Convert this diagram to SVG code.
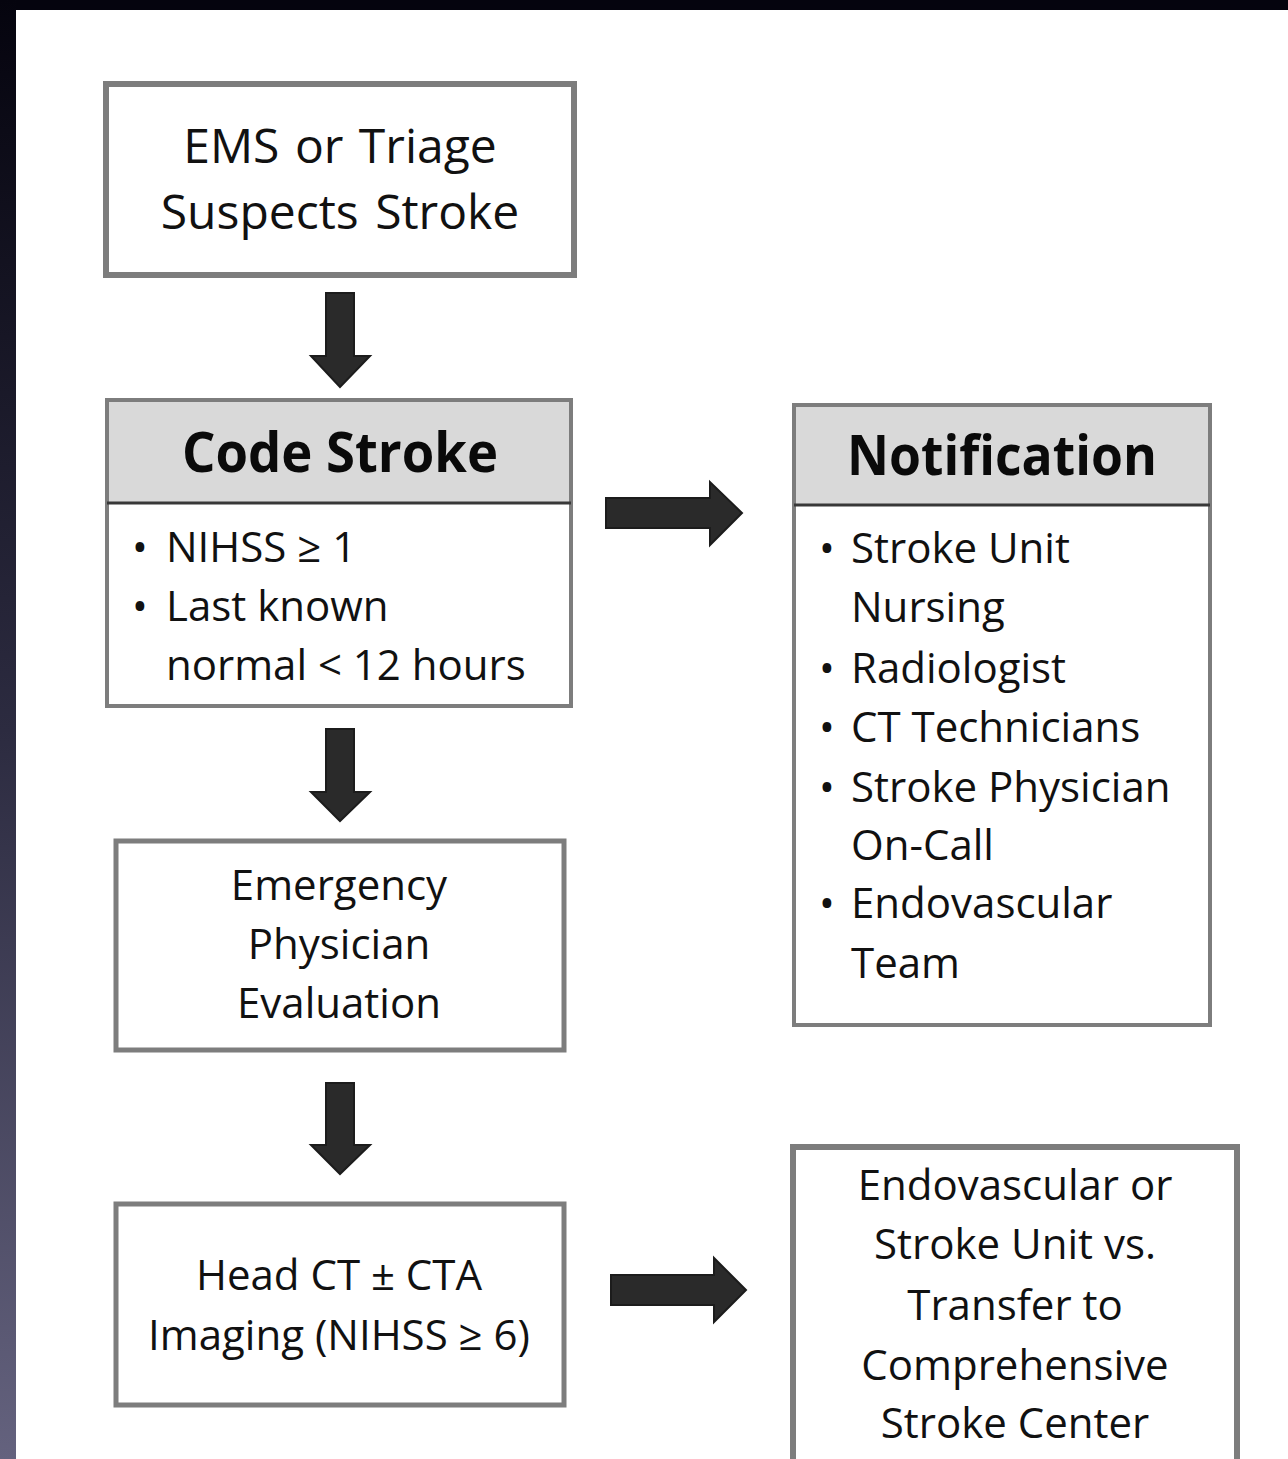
<svg xmlns="http://www.w3.org/2000/svg" width="1288" height="1459" viewBox="0 0 1288 1459">
  <defs>
    <linearGradient id="leftband" x1="0" y1="0" x2="0" y2="1">
      <stop offset="0" stop-color="#05040e"/>
      <stop offset="0.5" stop-color="#2c2b40"/>
      <stop offset="1" stop-color="#64627e"/>
    </linearGradient>
    <style>
      .box { fill: #ffffff; stroke: #7d7d7d; stroke-width: 5; }
      .hdr { fill: #d9d9d9; stroke: none; }
      .div { stroke: #383838; stroke-width: 3; }
      .t { font-family: "Open Sans", "Liberation Sans", sans-serif; font-size: 42px; fill: #111111; }
      .c { text-anchor: middle; }
      .b { font-size: 48px; }
      .h { font-family: "Open Sans", "Liberation Sans", sans-serif; font-size: 56px; font-weight: bold; fill: #0a0a0a; text-anchor: middle; }
      .arrow { fill: #2a2a2a; stroke: #1c1c1c; stroke-width: 2; stroke-linejoin: miter; }
    </style>
  </defs>

  <!-- background frame -->
  <rect x="0" y="0" width="1288" height="1459" fill="#ffffff"/>
  <rect x="0" y="0" width="1288" height="10" fill="#05040e"/>
  <rect x="0" y="0" width="16" height="1459" fill="url(#leftband)"/>

  <g id="connectors">
    <polygon class="arrow" points="326,293 354,293 354,356 370,356 340,387 311,356 326,356"/>
    <polygon class="arrow" points="326,729 354,729 354,792 370,792 340,821 311,792 326,792"/>
    <polygon class="arrow" points="326,1083 354,1083 354,1145 370,1145 340,1174 311,1145 326,1145"/>
    <polygon class="arrow" points="606,498 710,498 710,482 742,513 710,545 710,528 606,528"/>
    <polygon class="arrow" points="611,1275 714,1275 714,1258 746,1290 714,1322 714,1305 611,1305"/>
  </g>

  <g id="node-ems">
    <rect class="box" x="106" y="84" width="468" height="191" style="stroke-width:6"/>
    <text class="t c" x="340" y="163" style="font-size:48px" word-spacing="3">EMS or Triage</text>
    <text class="t c" x="340" y="229" style="font-size:48px" word-spacing="4">Suspects Stroke</text>
  </g>

  <g id="node-code-stroke">
    <rect class="box" x="107" y="400" width="464" height="306" style="stroke-width:4"/>
    <rect class="hdr" x="109" y="402" width="460" height="100"/>
    <line class="div" x1="107" y1="503" x2="571" y2="503"/>
    <text class="h" x="340" y="472" textLength="316" lengthAdjust="spacingAndGlyphs">Code Stroke</text>
    <text class="t c" x="140" y="562">•</text>
    <text class="t" x="166" y="562">NIHSS ≥ 1</text>
    <text class="t c" x="140" y="621">•</text>
    <text class="t" x="166" y="621">Last known</text>
    <text class="t" x="166" y="680">normal &lt; 12 hours</text>
  </g>

  <g id="node-notification">
    <rect class="box" x="794" y="405" width="416" height="620" style="stroke-width:4"/>
    <rect class="hdr" x="796" y="407" width="412" height="97"/>
    <line class="div" x1="794" y1="505" x2="1210" y2="505"/>
    <text class="h" x="1002" y="475" textLength="310" lengthAdjust="spacingAndGlyphs">Notification</text>
    <text class="t c" x="827" y="563">•</text>
    <text class="t" x="851" y="563">Stroke Unit</text>
    <text class="t" x="851" y="622">Nursing</text>
    <text class="t c" x="827" y="683">•</text>
    <text class="t" x="851" y="683">Radiologist</text>
    <text class="t c" x="827" y="742">•</text>
    <text class="t" x="851" y="742">CT Technicians</text>
    <text class="t c" x="827" y="802">•</text>
    <text class="t" x="851" y="802">Stroke Physician</text>
    <text class="t" x="851" y="860">On-Call</text>
    <text class="t c" x="827" y="918">•</text>
    <text class="t" x="851" y="918">Endovascular</text>
    <text class="t" x="851" y="978">Team</text>
  </g>

  <g id="node-emergency">
    <rect class="box" x="116" y="841" width="448" height="209"/>
    <text class="t c" x="339" y="900">Emergency</text>
    <text class="t c" x="339" y="959">Physician</text>
    <text class="t c" x="339" y="1018">Evaluation</text>
  </g>

  <g id="node-imaging">
    <rect class="box" x="116" y="1204" width="448" height="201"/>
    <text class="t c" x="339" y="1290">Head CT ± CTA</text>
    <text class="t c" x="339" y="1350">Imaging (NIHSS ≥ 6)</text>
  </g>

  <g id="node-disposition">
    <rect class="box" x="793" y="1147" width="444" height="330" style="stroke-width:6"/>
    <text class="t c" x="1015" y="1200">Endovascular or</text>
    <text class="t c" x="1015" y="1259">Stroke Unit vs.</text>
    <text class="t c" x="1015" y="1320">Transfer to</text>
    <text class="t c" x="1015" y="1380">Comprehensive</text>
    <text class="t c" x="1015" y="1438">Stroke Center</text>
  </g>
</svg>
